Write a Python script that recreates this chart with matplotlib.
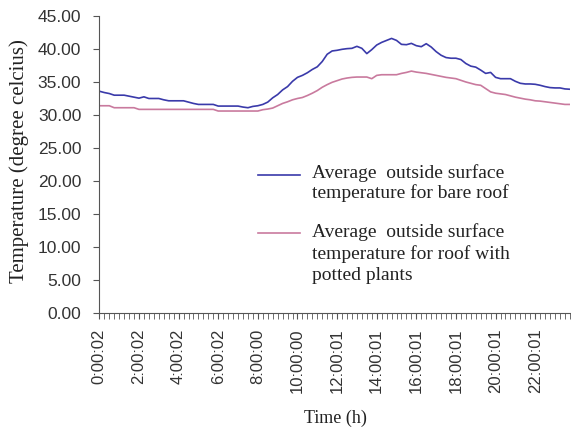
import matplotlib
matplotlib.use("Agg")
import matplotlib.pyplot as plt
from matplotlib.lines import Line2D
from matplotlib.ticker import FormatStrFormatter, MultipleLocator

# 15-minute readings over one day
bare_roof = [33.6, 33.4, 33.25, 33.0, 33.0, 33.0, 32.85, 32.7, 32.55, 32.75,
             32.5, 32.5, 32.5, 32.3, 32.15, 32.15, 32.15, 32.15, 31.95, 31.75,
             31.6, 31.6, 31.6, 31.6, 31.35, 31.35, 31.35, 31.35, 31.35, 31.2,
             31.1, 31.3, 31.4, 31.6, 31.95, 32.6, 33.1, 33.8, 34.3, 35.1,
             35.7, 36.0, 36.4, 36.9, 37.3, 38.1, 39.2, 39.7, 39.8, 39.95,
             40.05, 40.1, 40.4, 40.1, 39.3, 39.9, 40.6, 41.0, 41.3, 41.6,
             41.3, 40.7, 40.65, 40.85, 40.5, 40.35, 40.8, 40.3, 39.6, 39.05,
             38.7, 38.6, 38.6, 38.4, 37.8, 37.4, 37.25, 36.8, 36.3, 36.45,
             35.7, 35.5, 35.5, 35.5, 35.1, 34.8, 34.7, 34.7, 34.65, 34.5,
             34.3, 34.15, 34.1, 34.1, 33.95, 33.9]

potted_plants = [31.4, 31.4, 31.4, 31.1, 31.1, 31.1, 31.1, 31.1, 30.85, 30.85,
                 30.85, 30.85, 30.85, 30.85, 30.85, 30.85, 30.85, 30.85, 30.85, 30.85,
                 30.85, 30.85, 30.85, 30.85, 30.6, 30.6, 30.6, 30.6, 30.6, 30.6,
                 30.6, 30.6, 30.6, 30.8, 30.9, 31.05, 31.4, 31.75, 32.0, 32.3,
                 32.5, 32.65, 32.95, 33.3, 33.7, 34.2, 34.6, 34.95, 35.2, 35.45,
                 35.6, 35.7, 35.75, 35.75, 35.75, 35.5, 36.0, 36.1, 36.1, 36.1,
                 36.1, 36.3, 36.45, 36.65, 36.5, 36.4, 36.3, 36.15, 36.0, 35.85,
                 35.7, 35.6, 35.5, 35.25, 35.0, 34.8, 34.6, 34.5, 34.0, 33.5,
                 33.3, 33.2, 33.1, 32.9, 32.7, 32.55, 32.4, 32.3, 32.15, 32.1,
                 32.0, 31.9, 31.8, 31.7, 31.6, 31.6]

tick_labels = ["0:00:02", "2:00:02", "4:00:02", "6:00:02", "8:00:00", "10:00:00",
               "12:00:01", "14:00:01", "16:00:01", "18:00:01", "20:00:01", "22:00:01"]

legend_rows = [
    ["Average  outside surface", "temperature for bare roof"],
    ["Average  outside surface", "temperature for roof with", "potted plants"],
]

blue = "#3a3aaa"
pink = "#c97a9e"

x = list(range(len(bare_roof)))

fig = plt.figure(figsize=(5.71, 4.32), dpi=100)
ax = fig.add_axes([0.174, 0.2755, 0.824, 0.6875])

ax.plot(x, bare_roof, color=blue, linewidth=1.2)
ax.plot(x, potted_plants, color=pink, linewidth=1.2)

ax.set_xlim(0, len(x) - 1)
ax.set_ylim(0, 45)

# y axis
ax.yaxis.set_major_locator(MultipleLocator(5))
ax.yaxis.set_major_formatter(FormatStrFormatter("%.2f"))
ax.tick_params(axis="y", direction="out", length=4, color="#555555",
               labelsize=12.5, pad=9)

# x axis: a tick for every reading, a label every two hours
ax.set_xticks(x[::8])
ax.set_xticklabels(tick_labels, rotation=90)
ax.set_xticks(x, minor=True)
ax.tick_params(axis="x", which="both", direction="out", length=4,
               color="#555555", labelsize=12, pad=7)

for s in ["top", "right"]:
    ax.spines[s].set_visible(False)
for s in ["left", "bottom"]:
    ax.spines[s].set_color("#555555")

for t in ax.get_xticklabels() + ax.get_yticklabels():
    t.set_family("Liberation Sans")
    t.set_color("#333333")

ax.set_ylabel("Temperature (degree celcius)", family="Liberation Serif",
              fontsize=15, color="#222222")
ax.yaxis.set_label_coords(-0.15, 0.51)
ax.set_xlabel("Time (h)", family="Liberation Serif", fontsize=13,
              color="#222222")
ax.xaxis.set_label_coords(0.502, -0.325)

# legend drawn by hand so each line sits level with the first row of its text
H = 432.0
W = 571.0
handle_y = [175, 233]
row_y = [[173, 193], [232, 254, 276]]
for color, hy, rows, ys in zip([blue, pink], handle_y, legend_rows, row_y):
    fig.add_artist(Line2D([258 / W, 300 / W], [1 - hy / H, 1 - hy / H],
                          color=color, linewidth=1.2))
    for text, ty in zip(rows, ys):
        fig.text(312 / W, 1 - ty / H, text, family="Liberation Serif",
                 fontsize=14, va="center", ha="left", color="#222222")

fig.savefig("out.png", dpi=100)
